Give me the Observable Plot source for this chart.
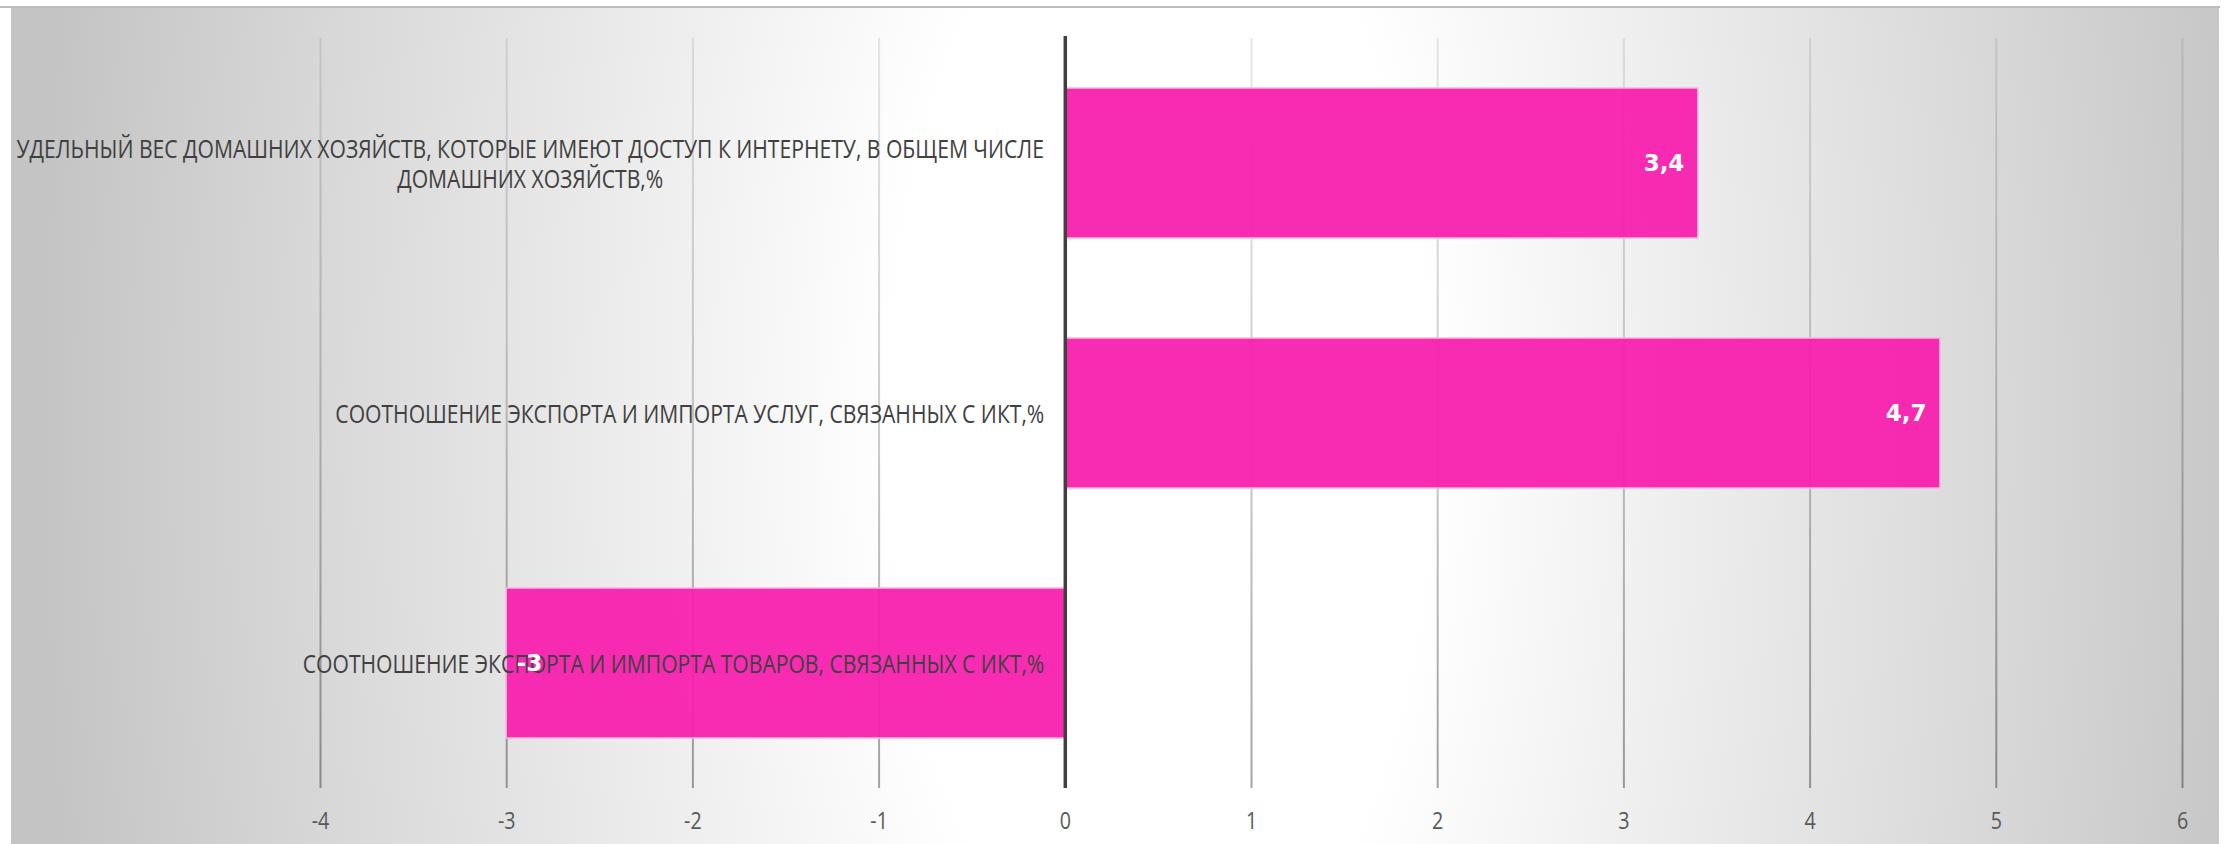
<!DOCTYPE html>
<html>
<head>
<meta charset="utf-8">
<script src="https://cdn.jsdelivr.net/npm/d3@7"></script>
<script src="https://cdn.jsdelivr.net/npm/@observablehq/plot@0.6"></script>
<style>
  html, body { margin: 0; padding: 0; background: #ffffff; }
  #wrap { position: relative; width: 2231px; height: 844px; overflow: hidden; }
  #bg { position: absolute; left: 11px; top: 8px; width: 2208px; height: 836px;
        background: radial-gradient(ellipse 1120px 2400px at 1150px 420px,
          #ffffff 0%, #ffffff 24%, #f1f1f1 42%, #d6d6d6 78%, #c4c4c4 100%); }
  #topline { position: absolute; left: 0; top: 6px; width: 2220px; height: 2px; background: #bebebe; }
  #chart { position: absolute; left: 0; top: 0; }
</style>
</head>
<body>
<div id="wrap"><div id="bg"></div><div id="topline"></div><div id="chart"></div></div>
<script>
const categories = [
  "УДЕЛЬНЫЙ ВЕС ДОМАШНИХ ХОЗЯЙСТВ, КОТОРЫЕ ИМЕЮТ ДОСТУП К ИНТЕРНЕТУ, В ОБЩЕМ ЧИСЛЕ\nДОМАШНИХ ХОЗЯЙСТВ,%",
  "СООТНОШЕНИЕ ЭКСПОРТА И ИМПОРТА УСЛУГ, СВЯЗАННЫХ С ИКТ,%",
  "СООТНОШЕНИЕ ЭКСПОРТА И ИМПОРТА ТОВАРОВ, СВЯЗАННЫХ С ИКТ,%"
];
const values = [3.4, 4.7, -3];
const xTicks = [-4, -3, -2, -1, 0, 1, 2, 3, 4, 5, 6];

const data = categories.map((c, i) => ({category: c, value: values[i]}));
const fmt = v => String(v).replace(".", ",");

const labelFont = "'Open Sans', 'Noto Sans', sans-serif";
const SX_LABEL = 0.845;   // horizontal squeeze to imitate the narrow font
const SX_TICK = 0.82;

const plot = Plot.plot({
  width: 2231,
  height: 844,
  marginLeft: 320,
  marginRight: 49,
  marginTop: 38,
  marginBottom: 56,
  style: {background: "transparent", fontFamily: labelFont, overflow: "visible"},
  x: {domain: [-4, 6], label: null},
  y: {domain: categories, paddingInner: 0.4, paddingOuter: 0.2, axis: null},
  marks: [
    Plot.gridX(xTicks, {stroke: "url(#gridGrad)", strokeOpacity: 1, strokeWidth: 2}),
    Plot.barX(data, {x1: 0, x2: "value", y: "category", fill: "#f81fad", fillOpacity: 0.94,
                     stroke: "#f9b6e2", strokeWidth: 1.5}),
    Plot.ruleX([0], {stroke: "#404040", strokeWidth: 3.5, insetTop: -2}),
    Plot.axisX({ticks: xTicks, tickSize: 0, tickPadding: 23, fontSize: 24, fill: "#595959",
                tickFormat: d => String(d), label: null}),
    Plot.text(data, {x: 0, y: "category", text: "category", textAnchor: "end", dx: -21,
                     fontSize: 25, fill: "#404040", lineHeight: 1.2}),
    Plot.text(data.filter(d => d.value >= 0), {x: "value", y: "category", text: d => fmt(d.value),
                     textAnchor: "end", dx: -14, fontSize: 23, fontWeight: "bold", fill: "white",
                     fontFamily: "'DejaVu Sans', sans-serif"}),
    Plot.text(data.filter(d => d.value < 0), {x: "value", y: "category", text: d => fmt(d.value),
                     textAnchor: "start", dx: 10, fontSize: 23, fontWeight: "bold", fill: "white",
                     fontFamily: "'DejaVu Sans', sans-serif"})
  ]
});

// gradient for gridlines (fainter at top, darker at bottom)
const ns = "http://www.w3.org/2000/svg";
const defs = document.createElementNS(ns, "defs");
const lg = document.createElementNS(ns, "linearGradient");
lg.setAttribute("id", "gridGrad");
lg.setAttribute("gradientUnits", "userSpaceOnUse");
lg.setAttribute("x1", "0"); lg.setAttribute("x2", "0");
lg.setAttribute("y1", "38"); lg.setAttribute("y2", "788");
[["0", 0.09], ["0.5", 0.2], ["1", 0.36]].forEach(([o, op]) => {
  const s = document.createElementNS(ns, "stop");
  s.setAttribute("offset", o);
  s.setAttribute("stop-color", "#000");
  s.setAttribute("stop-opacity", op);
  lg.appendChild(s);
});
defs.appendChild(lg);
plot.insertBefore(defs, plot.firstChild);

document.getElementById("chart").appendChild(plot);

function squeeze(texts, sx) {
  texts.forEach(t => {
    const tr = t.getAttribute("transform") || "";
    t.setAttribute("transform", tr + ` scale(${sx},1)`);
  });
}

// the first text mark holds the category labels
const catGroup = plot.querySelectorAll('g[aria-label="text"]')[0];
const catTexts = Array.from(catGroup.querySelectorAll("text"));
// center the lines of the multi-line category label under each other
catTexts.forEach(t => {
  const spans = t.querySelectorAll("tspan");
  if (spans.length > 1) {
    const w = spans[0].getComputedTextLength();
    t.setAttribute("text-anchor", "middle");
    spans.forEach(s => s.setAttribute("x", -w / 2));
  }
});
squeeze(catTexts, SX_LABEL);
const tickGroup = plot.querySelector('g[aria-label="x-axis tick label"]');
if (tickGroup) squeeze(Array.from(tickGroup.querySelectorAll("text")), SX_TICK);
</script>
</body>
</html>
